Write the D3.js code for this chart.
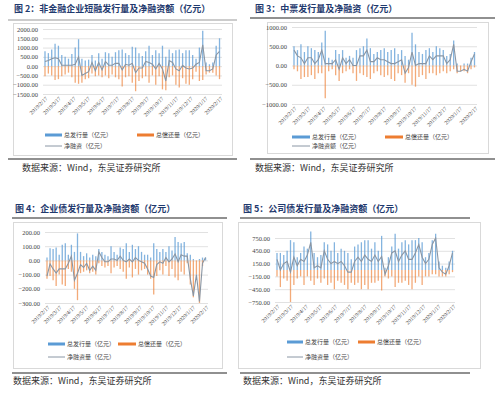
<!DOCTYPE html>
<html>
<head>
<meta charset="utf-8">
<script src="https://cdn.jsdelivr.net/npm/d3@7"></script>
<style>
  body { margin: 0; background: #fff; }
  svg { display: block; }
</style>
</head>
<body>
<svg id="chart" width="500" height="394"></svg>
<script>
// Monthly tick labels shared by all four charts
const tickLabels = ["2019/2/17", "2019/3/17", "2019/4/17", "2019/5/17", "2019/6/17", "2019/7/17",
  "2019/8/17", "2019/9/17", "2019/10/17", "2019/11/17", "2019/12/17", "2020/1/17", "2020/2/17"];

// Weekly observations, 2019/2/17 onward
const firstWeek = new Date(2019, 1, 17);
const weekDates = d3.range(53).map(i => d3.timeDay.offset(firstWeek, 7 * i));

// Fig 2: short-term financing bills (亿元)
const stIssue = [800, 700, 900, 1200, 1100, 600, 500, 400, 650, 1000, 1450, 400, 300, 350, 600, 300, 700, 400,
  750, 700, 500, 750, 850, 900, 700, 600, 1050, 1000, 700, 550, 800, 1100, 600, 850, 700, 1100, 500, 900,
  700, 850, 900, 700, 850, 850, 600, 400, 1000, 1900, 200, 100, 200, 1100, 1500];
const stRepay = [-550, -400, -500, -750, -700, -550, -450, -350, -600, -900, -950, -900, -700, -650, -400, -550,
  -500, -600, -500, -650, -450, -600, -700, -1100, -600, -550, -900, -1350, -800, -650, -550, -900, -500,
  -1000, -550, -1250, -1300, -600, -500, -1000, -1150, -650, -950, -1000, -700, -300, -800, -750, -450,
  -350, -350, -500, -700];
const stTicks = [2000, 1500, 1000, 500, 0, -500, -1000, -1500];

// Fig 3: medium-term notes
const mtnIssue = [500, 400, 550, 350, 500, 450, 400, 350, 600, 900, 200, 150, 400, 300, 400, 200, 250, 200,
  400, 450, 500, 700, 450, 300, 350, 400, 450, 350, 400, 450, 300, 400, 250, 150, 850, 550, 350, 300, 400,
  450, 350, 500, 450, 400, 250, 300, 650, 50, 0, 50, 50, 200, 350];
const mtnRepay = [-100, -150, -350, -300, -300, -250, -350, -200, -200, -850, -150, -100, -250, -400, -200,
  -150, -100, -200, -400, -200, -250, -300, -350, -200, -150, -250, -300, -250, -350, -400, -200, -250,
  -450, -200, -500, -550, -300, -250, -350, -200, -200, -250, -200, -150, -200, -150, -100, -200, -150,
  -150, -200, -100, -50];
const mtnTicks = [1000, 500, 0, -500, -1000];

// Fig 4: enterprise bonds
const ebIssue = [20, 85, 80, 90, 40, 110, 120, 40, 110, 60, 190, 60, 30, 50, 20, 40, 30, 80, 60, 40, 30, 100,
  60, 40, 90, 80, 120, 60, 110, 80, 100, 60, 40, 40, 20, 120, 80, 60, 80, 60, 100, 70, 165, 130, 120, 130,
  50, 40, 10, 0, 10, 20, 20];
const ebRepay = [-130, -110, -140, -180, -100, -170, -180, -60, -80, -200, -280, -90, -80, -70, -90, -80,
  -100, -20, -40, -50, -40, -90, -50, -40, -60, -80, -130, -50, -120, -60, -100, -70, -60, -100, -130,
  -240, -110, -70, -100, -40, -110, -60, -120, -140, -80, -100, -20, -170, -260, -100, -300, -40, 0];
const ebTicks = [200, 100, 0, -100, -200, -300];

// Fig 5: corporate bonds
const cbIssue = [400, 400, 350, 450, 700, 650, 300, 400, 550, 500, 900, 400, 300, 350, 650, 600, 450, 650,
  400, 500, 450, 400, 250, 550, 600, 650, 700, 700, 500, 650, 450, 800, 50, 300, 550, 850, 500, 650, 700,
  600, 700, 700, 750, 650, 300, 400, 700, 850, 200, 100, 50, 200, 450];
const cbRepay = [-150, -400, -200, -250, -750, -350, -200, -150, -350, -150, -250, -350, -200, -300, -200,
  -350, -300, -450, -250, -300, -350, -450, -300, -350, -300, -450, -350, -450, -300, -300, -250, -480,
  -150, -200, -150, -400, -300, -300, -250, -350, -450, -300, -150, -350, -150, -150, -100, -100, -150,
  -150, -150, -100, -50];
const cbTicks = [750, 450, 150, -150, -450, -750];

const BLUE = "#5b9bd5", ORANGE = "#ed7d31", GREY = "#8a96a4";
const CJK = "'Noto Sans CJK SC', sans-serif";
const NUM = "'Liberation Serif', serif";

const svg = d3.select("#chart");

function drawPanel(p) {
  const g = svg.append("g");

  // Title and rules
  g.append("text")
    .attr("x", p.titleX).attr("y", p.titleY)
    .attr("dominant-baseline", "middle")
    .style("font-family", CJK).style("font-size", "9px").style("font-weight", "bold")
    .style("fill", "#1f3a6e")
    .text(p.title);
  g.append("line")
    .attr("x1", p.ruleX[0]).attr("x2", p.ruleX[1])
    .attr("y1", p.ruleTop).attr("y2", p.ruleTop)
    .attr("stroke", p.ruleTopColor).attr("stroke-width", 1.2);
  g.append("line")
    .attr("x1", p.ruleX[0]).attr("x2", p.ruleX[1])
    .attr("y1", p.ruleBottom).attr("y2", p.ruleBottom)
    .attr("stroke", "#222").attr("stroke-width", 1.2);

  // Chart frame
  g.append("rect")
    .attr("x", p.box[0] + 0.5).attr("y", p.box[1] + 0.5)
    .attr("width", p.box[2] - p.box[0]).attr("height", p.box[3] - p.box[1])
    .attr("fill", "#fff").attr("stroke", "#d9d9d9");

  // Source note
  g.append("text")
    .attr("x", p.srcX).attr("y", p.srcY)
    .attr("dominant-baseline", "middle")
    .style("font-family", CJK).style("font-size", "9px").style("fill", "#333")
    .text("数据来源：Wind，东吴证券研究所");

  // Scales
  const x = d3.scaleTime()
    .domain([new Date(2019, 1, 17), new Date(2020, 1, 17)])
    .range([p.plot[0] + 2, p.plot[1] - 2]);
  const y = d3.scaleLinear()
    .domain(d3.extent(p.ticks))
    .range([p.plot[3], p.plot[2]]);

  // Gridlines + y labels
  const yAxis = g.append("g")
    .attr("transform", `translate(${p.plot[0]},0)`)
    .call(d3.axisLeft(y).tickValues(p.ticks).tickSize(-(p.plot[1] - p.plot[0]))
      .tickPadding(5).tickFormat(d3.format(".2f")));
  yAxis.select(".domain").remove();
  yAxis.selectAll(".tick line").attr("stroke", "#d9d9d9").attr("stroke-width", 0.8);
  yAxis.selectAll(".tick text")
    .style("font-family", NUM).style("font-size", "6.5px").style("fill", "#444");

  // Bars
  const bars = g.append("g");
  bars.selectAll(".iss").data(weekDates).enter().append("line")
    .attr("x1", d => x(d)).attr("x2", d => x(d))
    .attr("y1", y(0)).attr("y2", (d, i) => y(p.issue[i]))
    .attr("stroke", BLUE).attr("stroke-width", 1.3).attr("opacity", 0.75);
  bars.selectAll(".rep").data(weekDates).enter().append("line")
    .attr("x1", d => x(d)).attr("x2", d => x(d))
    .attr("y1", y(0)).attr("y2", (d, i) => y(p.repay[i]))
    .attr("stroke", ORANGE).attr("stroke-width", 1.3).attr("opacity", 0.65);

  // Net financing = issuance + repayment (repayment stored negative)
  const net = weekDates.map((d, i) => ({ d, v: p.issue[i] + p.repay[i] }));
  g.append("path")
    .datum(net)
    .attr("fill", "none").attr("stroke", GREY).attr("stroke-width", 1.1)
    .attr("d", d3.line().x(d => x(d.d)).y(d => y(d.v)));

  // X tick labels, rotated
  tickLabels.forEach(lab => {
    const [yy, mm, dd] = lab.split("/").map(Number);
    const tx = x(new Date(yy, mm - 1, dd));
    g.append("text")
      .attr("transform", `translate(${tx + 2},${p.plot[3] + 4}) rotate(-45)`)
      .attr("text-anchor", "end")
      .attr("dominant-baseline", "middle")
      .style("font-family", NUM).style("font-size", "5.6px").style("fill", "#444")
      .text(lab);
  });

  // Legend
  const L = p.legend;
  const legendText = (tx, ty, s) => g.append("text")
    .attr("x", tx).attr("y", ty).attr("dominant-baseline", "middle")
    .style("font-family", CJK).style("font-size", "6px").style("fill", "#444").text(s);
  g.append("rect").attr("x", L.s1[0]).attr("y", L.row1 - 1.5).attr("width", L.s1[1]).attr("height", 3).attr("fill", BLUE);
  legendText(L.s1[0] + L.s1[1] + 2, L.row1, "总发行量（亿元）");
  g.append("rect").attr("x", L.s2[0]).attr("y", L.row1 - 1.5).attr("width", L.s2[1]).attr("height", 3).attr("fill", ORANGE);
  legendText(L.s2[0] + L.s2[1] + 2, L.row1, "总偿还量（亿元）");
  g.append("line").attr("x1", L.s1[0]).attr("x2", L.s1[0] + L.s1[1])
    .attr("y1", L.row2).attr("y2", L.row2).attr("stroke", GREY).attr("stroke-width", 1);
  legendText(L.s1[0] + L.s1[1] + 2, L.row2, p.netLabel);
}

drawPanel({
  title: "图 2：非金融企业短融发行量及净融资额（亿元）", titleX: 14, titleY: 10,
  ruleX: [8, 237], ruleTop: 20, ruleTopColor: "#9a9a9a", ruleBottom: 159,
  box: [13, 23, 232, 155], plot: [43, 222, 29, 94],
  srcX: 22, srcY: 169, ticks: stTicks, issue: stIssue, repay: stRepay,
  legend: { row1: 135, row2: 146, s1: [45, 17], s2: [137, 17] }, netLabel: "净融资（亿元）"
});
drawPanel({
  title: "图 3：中票发行量及净融资（亿元）", titleX: 255, titleY: 10,
  ruleX: [250, 495], ruleTop: 18, ruleTopColor: "#222", ruleBottom: 159,
  box: [267, 22, 488, 153], plot: [292, 477, 27, 104],
  srcX: 255, srcY: 169, ticks: mtnTicks, issue: mtnIssue, repay: mtnRepay,
  legend: { row1: 137, row2: 146, s1: [292, 18], s2: [385, 18] }, netLabel: "净融资额（亿元）"
});
drawPanel({
  title: "图 4：企业债发行量及净融资额（亿元）", titleX: 15, titleY: 210,
  ruleX: [12, 227], ruleTop: 218, ruleTopColor: "#222", ruleBottom: 373,
  box: [13, 222, 222, 368], plot: [45, 208, 232, 303],
  srcX: 13, srcY: 382, ticks: ebTicks, issue: ebIssue, repay: ebRepay,
  legend: { row1: 344, row2: 357, s1: [48, 17], s2: [118, 18] }, netLabel: "净融资量（亿元）"
});
drawPanel({
  title: "图 5：公司债发行量及净融资额（亿元）", titleX: 243, titleY: 210,
  ruleX: [240, 470], ruleTop: 218, ruleTopColor: "#222", ruleBottom: 373,
  box: [238, 222, 480, 368], plot: [275, 455, 238, 302],
  srcX: 243, srcY: 382, ticks: cbTicks, issue: cbIssue, repay: cbRepay,
  legend: { row1: 342, row2: 357, s1: [287, 16], s2: [358, 17] }, netLabel: "净融资量（亿元）"
});
</script>
</body>
</html>
